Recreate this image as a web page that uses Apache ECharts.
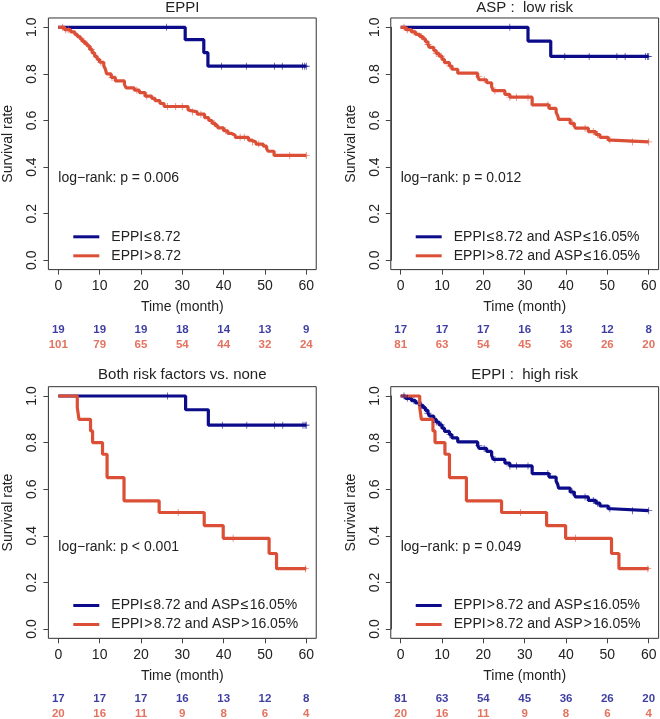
<!DOCTYPE html>
<html>
<head>
<meta charset="utf-8">
<script src="https://cdn.jsdelivr.net/npm/echarts@6.0.0/dist/echarts.min.js"></script>
<style>
html, body { margin: 0; padding: 0; background: #fff; }
#grafico { width: 660px; height: 719px; }
</style>
</head>
<body>
<div id="grafico"></div>
<script>
// Kaplan-Meier steps: [month, survival after the event]
var eppiLowCurve = [[0, 1], [30.7, 0.947], [35.2, 0.891], [36.2, 0.833], [60, 0.833]];
var eppiLowCensor = [26.2, 39.5, 45.5, 52.3, 54.2, 59.1, 59.6, 60];

var eppiHighCurve = [
    [0, 1], [1.5, 0.99], [3.0, 0.98], [4.0, 0.97], [4.6, 0.96], [5.3, 0.95], [5.8, 0.94],
    [6.4, 0.93], [7.0, 0.92], [7.6, 0.905], [8.2, 0.89], [8.8, 0.875], [9.4, 0.862],
    [10.0, 0.85], [11.0, 0.835], [11.4, 0.82], [11.7, 0.80], [12.8, 0.785], [13.8, 0.77],
    [16.0, 0.755], [16.4, 0.74], [18.4, 0.73], [19.6, 0.72], [21.0, 0.705], [22.6, 0.695],
    [23.4, 0.685], [24.6, 0.673], [25.6, 0.66], [31.4, 0.645], [31.8, 0.637], [33.6, 0.627],
    [35.4, 0.612], [36.4, 0.60], [37.2, 0.588], [38.0, 0.578], [38.6, 0.568], [40.0, 0.556],
    [41.0, 0.545], [41.8, 0.537], [42.8, 0.528], [46.0, 0.516], [46.6, 0.508], [47.8, 0.499],
    [49.6, 0.49], [50.4, 0.478], [50.8, 0.468], [52.2, 0.45], [60, 0.45]
];
var eppiHighCensor = [1.0, 1.8, 2.4, 6.2, 8.0, 10.3, 13.0, 19.0, 21.4, 26.4, 28.4, 30.0, 32.5,
    34.5, 37.7, 40.5, 44.0, 45.0, 47.0, 48.5, 56.0, 60];

var lowLowCurve = [[0, 1], [30.8, 0.941], [36.3, 0.875], [60, 0.875]];
var lowLowCensor = [26.4, 39.7, 45.6, 52.3, 54.3, 59.2, 59.7, 60];

var highLowCurve = [
    [0, 1], [1.2, 0.99], [2.6, 0.98], [3.6, 0.97], [4.6, 0.96], [5.4, 0.95], [6.0, 0.938],
    [6.6, 0.926], [7.0, 0.914], [8.0, 0.90], [8.6, 0.888], [9.3, 0.876], [10.0, 0.862],
    [10.6, 0.848], [11.8, 0.834], [12.4, 0.82], [13.8, 0.803], [18.6, 0.788], [19.0, 0.775],
    [20.8, 0.762], [22.0, 0.745], [22.4, 0.728], [25.2, 0.712], [26.4, 0.70], [31.8, 0.667],
    [35.9, 0.652], [37.6, 0.635], [38.0, 0.62], [38.2, 0.605], [41.0, 0.588], [42.0, 0.577],
    [42.3, 0.567], [45.4, 0.552], [47.2, 0.54], [48.2, 0.528], [50.2, 0.516], [51.0, 0.508],
    [60, 0.508]
];
var highLowCensor = [0.8, 1.6, 3.2, 5.0, 6.6, 8.6, 9.8, 11.9, 18.9, 20.2, 22.8, 26.4, 28.0,
    30.8, 35.6, 41.5, 44.6, 46.6, 47.6, 50.6, 56.1, 60];

var highHighCurve = [
    [0, 1], [4.6, 0.95], [5.0, 0.90], [7.8, 0.85], [8.3, 0.80], [10.7, 0.75], [11.8, 0.65],
    [15.9, 0.55], [24.4, 0.50], [35.3, 0.444], [39.9, 0.389], [51.0, 0.324], [52.8, 0.259],
    [60, 0.259]
];
var highHighCensor = [29.0, 42.3, 59.8];

// numbers at risk
var timeTicks = [0, 10, 20, 30, 40, 50, 60];
var riskEppiLow = [19, 19, 19, 18, 14, 13, 9];
var riskEppiHigh = [101, 79, 65, 54, 44, 32, 24];
var riskLowLow = [17, 17, 17, 16, 13, 12, 8];
var riskHighLow = [81, 63, 54, 45, 36, 26, 20];
var riskHighHigh = [20, 16, 11, 9, 8, 6, 4];

var titles = ['EPPI', 'ASP :  low risk', 'Both risk factors vs. none', 'EPPI :  high risk'];
var pTexts = ['log\u2212rank: p = 0.006', 'log\u2212rank: p = 0.012',
    'log\u2212rank: p < 0.001', 'log\u2212rank: p = 0.049'];
var legendNames = [
    ['EPPI\u200a≤\u200a8.72', 'EPPI\u200a>\u200a8.72'],
    ['EPPI\u200a≤\u200a8.72 and ASP\u200a≤\u200a16.05%', 'EPPI\u200a>\u200a8.72 and ASP\u200a≤\u200a16.05%'],
    ['EPPI\u200a≤\u200a8.72 and ASP\u200a≤\u200a16.05%', 'EPPI\u200a>\u200a8.72 and ASP\u200a>\u200a16.05%'],
    ['EPPI\u200a>\u200a8.72 and ASP\u200a≤\u200a16.05%', 'EPPI\u200a>\u200a8.72 and ASP\u200a>\u200a16.05%']
];

var panels = [
    { curves: [eppiLowCurve, eppiHighCurve], censor: [eppiLowCensor, eppiHighCensor], risk: [riskEppiLow, riskEppiHigh] },
    { curves: [lowLowCurve, highLowCurve], censor: [lowLowCensor, highLowCensor], risk: [riskLowLow, riskHighLow] },
    { curves: [lowLowCurve, highHighCurve], censor: [lowLowCensor, highHighCensor], risk: [riskLowLow, riskHighHigh] },
    { curves: [highLowCurve, highHighCurve], censor: [highLowCensor, highHighCensor], risk: [riskHighLow, riskHighHigh] }
];

var BLUE = '#0c0c8a';
var RED = '#dc4f37';
var COLORS = [BLUE, RED];
var FONT = 'Liberation Sans, Arial, Helvetica, sans-serif';
var pos = [[58.3, 27.3], [400.7, 27.3], [58.3, 396], [400.7, 396]];
var titleY = [8, 8, 375, 375];
var W = 248, H = 233;
var plus = 'path://M0,4.4H10V5.6H0Z M4.4,0H5.6V10H4.4Z';

function survivalAt(curve, t) {
    var s = 1;
    for (var i = 0; i < curve.length; i++) {
        if (curve[i][0] <= t) s = curve[i][1];
    }
    return s;
}

var chartDom = document.getElementById('grafico');
var myChart = echarts.init(chartDom);

var grid = [], xAxis = [], yAxis = [], series = [], title = [], legend = [], graphic = [];

pos.forEach(function (p, k) {
    var left = p[0], top = p[1];
    var panel = panels[k];

    var g = grid.length;
    grid.push({ left: left, top: top, width: W, height: H, outerBoundsMode: 'none' });
    xAxis.push({
        gridIndex: g, type: 'value', min: 0, max: 60, interval: 10, offset: 0.04 * H,
        name: 'Time (month)', nameLocation: 'middle', nameGap: 31,
        nameTextStyle: { fontSize: 14, color: '#222', fontFamily: FONT },
        axisLine: { show: true, onZero: false, lineStyle: { color: '#444', width: 1 } },
        axisTick: { show: true, length: 5, lineStyle: { color: '#444' } },
        axisLabel: { fontSize: 14, color: '#222', margin: 10, fontFamily: FONT },
        splitLine: { show: false }
    });
    yAxis.push({
        gridIndex: g, type: 'value', min: 0, max: 1, interval: 0.2, offset: 0.04 * W,
        name: 'Survival rate', nameLocation: 'middle', nameGap: 33,
        nameTextStyle: { fontSize: 14, color: '#222', fontFamily: FONT },
        axisLine: { show: true, onZero: false, lineStyle: { color: '#444', width: 1 } },
        axisTick: { show: true, length: 5, lineStyle: { color: '#444' } },
        axisLabel: {
            fontSize: 14, color: '#222', margin: 9, rotate: 90, fontFamily: FONT,
            formatter: function (v) { return v.toFixed(1); }
        },
        splitLine: { show: false }
    });

    // frame around the plot region (R style 4% extension)
    graphic.push({
        type: 'rect', silent: true,
        shape: { x: left - 0.04 * W, y: top - 0.04 * H, width: 1.08 * W, height: 1.08 * H },
        style: { fill: 'none', stroke: '#333', lineWidth: 1 }
    });
    graphic.push({
        type: 'text', left: left, top: top + 144,
        style: { text: pTexts[k], fontSize: 14, fill: '#222', fontFamily: FONT }
    });

    title.push({
        text: titles[k], left: left + W / 2, top: titleY[k] - 8, textAlign: 'center', padding: 0,
        textStyle: { fontSize: 15, fontWeight: 'normal', color: '#222', fontFamily: FONT }
    });

    legend.push({
        data: legendNames[k].map(function (n, j) { return { name: n, itemStyle: { color: COLORS[j] } }; }),
        orient: 'vertical', left: left + 15, top: top + 201.5, padding: 0,
        icon: 'rect', itemWidth: 26, itemHeight: 3, itemGap: 3, selectedMode: false,
        textStyle: { fontSize: 14, color: '#222', lineHeight: 16, padding: [0, 0, 0, 7], fontFamily: FONT }
    });

    COLORS.forEach(function (c, j) {
        series.push({
            type: 'line', name: legendNames[k][j], xAxisIndex: g, yAxisIndex: g,
            data: panel.curves[j], step: 'end', showSymbol: false, symbol: 'none',
            color: c, lineStyle: { width: 3.2, color: c }, clip: false, silent: true, z: 2 + j
        });
    });
    COLORS.forEach(function (c, j) {
        series.push({
            type: 'scatter', name: 'censor', xAxisIndex: g, yAxisIndex: g,
            data: panel.censor[j].map(function (t) { return [t, survivalAt(panel.curves[j], t)]; }),
            symbol: plus, symbolSize: 7, silent: true, z: 4 + j,
            itemStyle: { color: c, opacity: 0.7 }
        });
    });

    // numbers-at-risk table under each panel
    var gi = grid.length;
    var rowTop = k < 2 ? 322 : 691;
    grid.push({ left: left, top: rowTop, width: W, height: 30, outerBoundsMode: 'none' });
    xAxis.push({ gridIndex: gi, type: 'value', min: 0, max: 60, show: false });
    yAxis.push({ gridIndex: gi, type: 'category', data: ['a', 'b'], inverse: true, show: false });
    COLORS.forEach(function (c, j) {
        series.push({
            type: 'scatter', xAxisIndex: gi, yAxisIndex: gi, silent: true,
            data: timeTicks.map(function (t, i) { return [t, j, panel.risk[j][i]]; }),
            symbolSize: 0, itemStyle: { color: 'transparent' },
            label: {
                show: true, position: 'inside', color: c, fontSize: 11.5, fontWeight: 'bold',
                fontFamily: FONT, formatter: function (d) { return d.value[2]; }
            }
        });
    });
});

var option = {
    backgroundColor: '#fff',
    animation: false,
    textStyle: { fontFamily: FONT },
    title: title,
    legend: legend,
    grid: grid,
    xAxis: xAxis,
    yAxis: yAxis,
    graphic: graphic,
    series: series
};
myChart.setOption(option);
</script>
</body>
</html>
